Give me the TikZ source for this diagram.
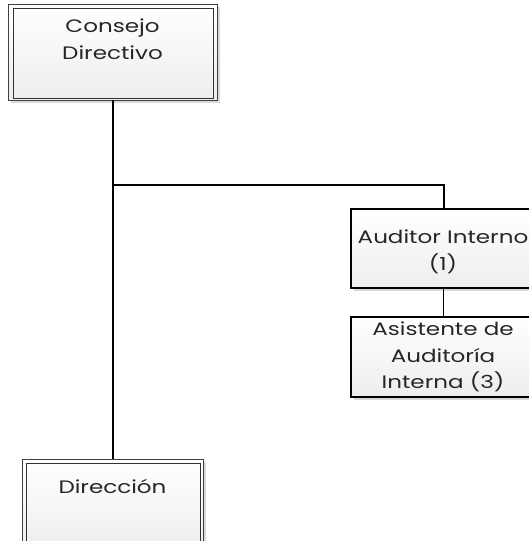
\documentclass[tikz,border=0pt]{standalone}
\usepackage{fontspec}
\setmainfont{Poppins}[FakeStretch=1.28]
\usetikzlibrary{shadows}
\begin{document}
\begin{tikzpicture}[x=1pt,y=1pt,
  boxfill/.style={shade, top color=white, bottom color=black!7, inner sep=0pt, outer sep=0pt,
    drop shadow={shadow xshift=3pt, shadow yshift=-3pt, opacity=0.25, fill=black!60}},
  dblbox/.style={boxfill, draw=black!75, line width=0.9pt, anchor=north west},
  inbox/.style={draw=black!80, line width=0.8pt, inner sep=0pt, anchor=north west},
  sglbox/.style={boxfill, draw=black, line width=1.6pt, anchor=north west},
  txt/.style={inner sep=0pt, align=center, anchor=north, font=\fontsize{18}{26.5}\selectfont, text=black!85},
  thick line/.style={line width=2.8pt, black},
  thin line/.style={line width=1pt, black}]
\useasboundingbox (0,0) rectangle (529,-541);
\clip (0,0) rectangle (529,-541);
% Consejo Directivo
\node[dblbox, minimum width=209pt, minimum height=96pt] (cd) at (8,-4) {};
\node[inbox, minimum width=200pt, minimum height=90pt] (cdi) at (12.5,-8) {};
\node[txt] (cdt) at ([yshift=-15pt]cd.north) {Consejo\\Directivo};
% Direccion
\node[dblbox, minimum width=181pt, minimum height=96pt] (dir) at (22,-459) {};
\node[inbox, minimum width=174pt, minimum height=90pt] (diri) at (25.5,-463) {};
\node[txt] (dirt) at ([yshift=-20pt]dir.north) {Dirección};
% Auditor Interno
\node[sglbox, minimum width=184pt, minimum height=79pt] (ai) at (351,-209) {};
\node[txt] (ait) at ([yshift=-21pt]ai.north) {Auditor Interno\\(1)};
% Asistente
\node[sglbox, minimum width=184pt, minimum height=80pt] (as) at (351,-317) {};
\node[txt] (ast) at ([yshift=-5pt]as.north) {Asistente de\\Auditoría\\Interna (3)};
% connectors
\coordinate (j) at (113,-185);
\draw[thick line] (cd.south -| j) -- (dir.north -| j);
\draw[thick line] (j) -| ([xshift=1pt]ai.north);
\draw[thin line] ([xshift=0pt]ai.south) -- ([xshift=0pt]as.north);
\end{tikzpicture}
\end{document}
